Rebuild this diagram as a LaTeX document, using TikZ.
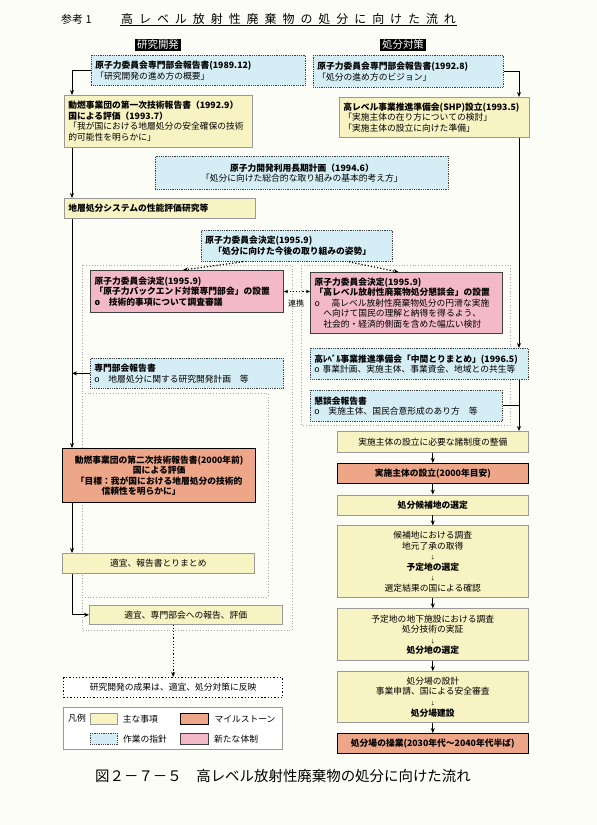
\documentclass[tikz,border=0pt]{standalone}
\usepackage{fontspec}
\setmainfont{Noto Sans CJK JP}
\newfontfamily\spacedfont{Noto Sans CJK JP}[LetterSpace=50]
\usetikzlibrary{positioning, arrows.meta}
\definecolor{bgcol}{HTML}{FDFDF7}
\definecolor{mainyel}{HTML}{F8F3C2}
\definecolor{guidecy}{HTML}{D5EEF5}
\definecolor{mileor}{HTML}{EEA688}
\definecolor{newpink}{HTML}{F3B9C9}

\begin{document}
\begin{tikzpicture}[
        x=1bp, y=-1bp,
        node distance=10.3bp,
        box/.style={anchor=north west, inner xsep=4bp, inner ysep=1.5bp, align=left, font=\fontsize{8.8}{10.6}\selectfont},
        sz/.style 2 args={minimum width=#1bp, minimum height=#2bp, text width=#1bp-8bp},
        main/.style={box, draw=black!40, line width=0.6bp, fill=mainyel},
        guide/.style={box, draw=black!75, densely dotted, line width=0.8bp, fill=guidecy},
        mile/.style={box, draw=black, line width=1.3bp, fill=mileor},
        newbody/.style={box, draw=black!75, line width=1bp, fill=newpink},
        colhead/.style={fill=black, text=white, inner xsep=2bp, inner ysep=1bp, font=\fontsize{10.5}{12}\selectfont},
        legtext/.style={inner sep=1bp, font=\fontsize{8.8}{10}\selectfont},
        frame/.style={draw=black!35, dotted, line width=0.8bp},
        arrow/.style={-{Stealth[length=5bp, width=4bp]}, line width=1bp},
        dotarrow/.style={-{Stealth[length=5bp, width=4bp]}, dotted, line width=1.2bp}
    ]

    \fill[bgcol] (0,0) rectangle (597,825);
    \useasboundingbox (0,0) rectangle (597,825);

    \node[anchor=west, inner sep=1bp, font=\fontsize{11}{13}\selectfont] (RefNo) at (60,19) {参考 1};
    \node[anchor=west, inner sep=1bp, font=\spacedfont\fontsize{12}{14}\selectfont] (Title) at (120,19) {高レベル放射性廃棄物の処分に向けた流れ};
    \draw[line width=0.8bp] (Title.south west) -- (Title.south east);

    \node[colhead] (ColRnd) at (158,45) {研究開発};
    \node[colhead] (ColCtm) at (403,45) {処分対策};

    \draw[frame] (82,265) rectangle (292,630);
    \draw[frame] (82,393) -| (268,597) -- (82,597);
    \draw[frame] (301,265) rectangle (510,425);

    \node[guide, sz={214}{30}] (Plan89) at (91,55) {\textbf{原子力委員会専門部会報告書(1989.12)}\\「研究開発の進め方の概要」};
    \node[main, sz={188}{52}] (Tech1) at (64,95) {\textbf{動燃事業団の第一次技術報告書（1992.9）}\\\textbf{国による評価（1993.7）}\\「我が国における地層処分の安全確保の技術\\的可能性を明らかに」};
    \node[guide, sz={190}{32}] (Vision92) at (313,55) {\textbf{原子力委員会専門部会報告書(1992.8)}\\「処分の進め方のビジョン」};
    \node[main, sz={190}{40}] (Shp) at (339,97) {\textbf{高レベル事業推進準備会(SHP)設立(1993.5)}\\「実施主体の在り方についての検討」\\「実施主体の設立に向けた準備」};
    \node[guide, sz={293}{33}, align=center] (LongTerm) at (155,156) {\textbf{原子力開発利用長期計画（1994.6）}\\「処分に向けた総合的な取り組みの基本的考え方」};
    \node[main, sz={191}{20}] (PerfStudy) at (64,198) {\textbf{地層処分システムの性能評価研究等}};

    \node[guide, sz={191}{31}] (Decision95) at (201,230) {\textbf{原子力委員会決定(1995.9)}\\\hspace*{8bp}\textbf{「処分に向けた今後の取り組みの姿勢」}};
    \node[newbody, sz={193}{42}] (Backend) at (90,270) {\textbf{原子力委員会決定(1995.9)}\\\textbf{「原子力バックエンド対策専門部会」の設置}\\\textbf{o\quad 技術的事項について調査審議}};
    \node[newbody, sz={192}{61}] (Forum) at (310,272) {\textbf{原子力委員会決定(1995.9)}\\\textbf{「高レベル放射性廃棄物処分懇談会」の設置}\\o\quad\ 高レベル放射性廃棄物処分の円滑な実施\\\hspace*{1em}へ向けて国民の理解と納得を得るよう、\\\hspace*{1em}社会的・経済的側面を含めた幅広い検討};
    \node[fill=bgcol, inner sep=1bp, font=\fontsize{8}{9}\selectfont] (Renkei) at (296,303) {連携};

    \node[guide, sz={193}{30}] (SubRep) at (90,358) {\textbf{専門部会報告書}\\o\quad 地層処分に関する研究開発計画\quad 等};
    \node[guide, sz={218}{31}] (Interim) at (310,348) {\textbf{高ﾚﾍﾞﾙ事業推進準備会「中間とりまとめ」(1996.5)}\\o 事業計画、実施主体、事業資金、地域との共生等};
    \node[guide, sz={192}{31}] (ForumRep) at (310,390) {\textbf{懇談会報告書}\\o\quad 実施主体、国民合意形成のあり方\quad 等};

    \node[main, sz={191}{21}, align=center] (System) at (337,431) {実施主体の設立に必要な諸制度の整備};
    \node[mile, sz={191}{20}, align=center, below=of System] (Establish) {\textbf{実施主体の設立(2000年目安)}};
    \node[main, sz={191}{20}, align=center, below=of Establish] (Candidate) {\textbf{処分候補地の選定}};
    \node[main, sz={191}{72}, align=center, below=of Candidate] (Survey) {候補地における調査\\地元了承の取得\\{\tiny ↓}\\\textbf{予定地の選定}\\{\tiny ↓}\\選定結果の国による確認};
    \node[main, sz={191}{52}, align=center, below=of Survey] (SiteSel) {予定地の地下施設における調査\\処分技術の実証\\{\tiny ↓}\\\textbf{処分地の選定}};
    \node[main, sz={191}{51}, align=center, below=of SiteSel] (Build) {処分場の設計\\事業申請、国による安全審査\\{\tiny ↓}\\\textbf{処分場建設}};
    \node[mile, sz={191}{20}, align=center, below=of Build] (Operate) {\textbf{処分場の操業(2030年代～2040年代半ば)}};

    \node[mile, sz={193}{54}, align=center] (Tech2) at (62,448) {\textbf{動燃事業団の第二次技術報告書(2000年前)}\\\textbf{国による評価}\\\textbf{「目標：我が国における地層処分の技術的}\\\textbf{信頼性を明らかに」}\hspace*{36bp}\mbox{}};
    \node[main, sz={192}{20}, align=center] (Summary) at (62,553) {適宜、報告書とりまとめ};
    \node[main, sz={193}{19}, align=center] (Report) at (89,605) {適宜、専門部会への報告、評価};
    \node[box, draw, dotted, line width=1.3bp, fill=white, sz={219}{20}, align=center] (Reflect) at (63,677) {研究開発の成果は、適宜、処分対策に反映};

    \node[box, draw=black!40, line width=0.6bp, fill=white, sz={219}{42}] (Legend) at (63,707) {};
    \node[legtext] (LegTitle) at (77,718) {凡例};
    \node[main, sz={27}{11}] (SwMain) at (90,713) {};
    \node[legtext, right=4bp of SwMain] (LbMain) {主な事項};
    \node[mile, sz={28}{11}] (SwMile) at (180,713) {};
    \node[legtext, right=4bp of SwMile] (LbMile) {マイルストーン};
    \node[guide, sz={27}{11}] (SwGuide) at (90,733) {};
    \node[legtext, right=4bp of SwGuide] (LbGuide) {作業の指針};
    \node[newbody, sz={28}{11}] (SwNew) at (180,733) {};
    \node[legtext, right=4bp of SwNew] (LbNew) {新たな体制};

    \node[font=\fontsize{14.5}{17}\selectfont] (Caption) at (283,776) {図２－７－５　高レベル放射性廃棄物の処分に向けた流れ};

    \coordinate (LSpine) at (72,0);
    \coordinate (RSpine) at (519,0);

    \draw[arrow] (Plan89.west) -| (Tech1.north -| LSpine);
    \draw[arrow] (Tech1.south -| LSpine) -- (PerfStudy.north -| LSpine);
    \draw[arrow] (PerfStudy.south -| LSpine) -- (Tech2.north -| LSpine);
    \draw[arrow] (SubRep.west) -- (SubRep.west -| LSpine);
    \draw[arrow] (Tech2.south -| LSpine) -- (Summary.north -| LSpine);
    \draw[arrow] (Summary.south -| LSpine) |- (Report.west);
    \draw[dotarrow] (Report.south -| Reflect.north) -- (Reflect.north);

    \draw[arrow] (Vision92.east) -| (Shp.north -| RSpine);
    \draw[arrow] (Shp.south -| RSpine) -- (Interim.north -| RSpine);
    \draw[arrow] (Interim.south -| RSpine) -- (System.north -| RSpine);
    \draw[line width=1bp] (ForumRep.east) -- (ForumRep.east -| RSpine);
    \foreach \a/\b in {System/Establish, Establish/Candidate, Candidate/Survey, Survey/SiteSel, SiteSel/Build, Build/Operate}
        \draw[arrow] (\a) -- (\b);

    \draw[dotarrow] ([xshift=-54bp]Decision95.south) -- ([xshift=-4bp]Backend.north);
    \draw[dotarrow] ([xshift=52bp]Decision95.south) -- ([xshift=-8bp]Forum.north);
    \draw[dotarrow, {Stealth[length=4bp, width=3.5bp]}-{Stealth[length=4bp, width=3.5bp]}] (Backend.east) -- (Backend.east -| Forum.west);

\end{tikzpicture}
\end{document}
